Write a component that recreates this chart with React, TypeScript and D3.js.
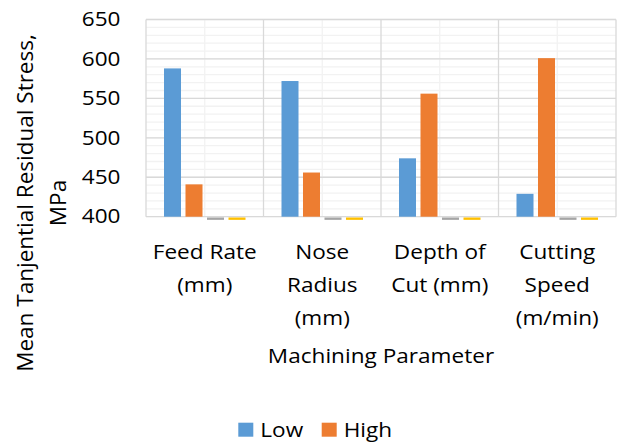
import React from "react";
import * as d3 from "d3";

// Mean tangential residual stress by machining parameter level
const categories: string[][] = [
  ["Feed Rate", "(mm)"],
  ["Nose", "Radius", "(mm)"],
  ["Depth of", "Cut (mm)"],
  ["Cutting", "Speed", "(m/min)"],
];
const lowValues = [588, 572, 474, 429];
const highValues = [441, 456, 556, 601];
const series3Values = [0, 0, 0, 0];
const series4Values = [0, 0, 0, 0];
const yTicks = [400, 450, 500, 550, 600, 650];
const legendItems = [
  { name: "Low", color: "#5b9bd5" },
  { name: "High", color: "#ed7d31" },
];
const seriesColors = ["#5b9bd5", "#ed7d31", "#a5a5a5", "#ffc000"];

const W = 626;
const H = 444;
const FONT = "'Open Sans', sans-serif";
const FS = 20;
const STRETCH = 1.13;

// Horizontal label with a slightly widened face
function Label({
  x,
  y,
  anchor = "start",
  children,
}: {
  x: number;
  y: number;
  anchor?: "start" | "middle" | "end";
  children: React.ReactNode;
}) {
  return (
    <g transform={`translate(${x},${y}) scale(${STRETCH},1)`}>
      <text x={0} y={0} textAnchor={anchor} fontSize={FS} fill="#000">
        {children}
      </text>
    </g>
  );
}

export default function App() {
  const left = 146;
  const right = 616;
  const top = 19.5;
  const bottom = 216.7;
  const yMin = 400;
  const yMax = 650;

  const y = d3.scaleLinear().domain([yMin, yMax]).range([bottom, top]);
  const x = d3
    .scaleBand<number>()
    .domain(d3.range(categories.length))
    .range([left, right])
    .padding(0);
  const inner = d3
    .scaleBand<number>()
    .domain([0, 1, 2, 3])
    .range([0, x.bandwidth()])
    .paddingInner(0.209)
    .paddingOuter(0.837);

  const allSeries = [lowValues, highValues, series3Values, series4Values];
  const minorTicks = d3.range(yMin, yMax + 1, 10);
  const catBounds = d3.range(categories.length + 1).map((i) =>
    i < categories.length ? x(i)! : right
  );

  const lineH = 32.8;

  return (
    <svg
      width={W}
      height={H}
      style={{ position: "absolute", left: 0, top: 0, background: "#fff" }}
      fontFamily={FONT}
    >
      {/* minor gridlines */}
      {minorTicks.map((t) => (
        <line key={"mh" + t} x1={left} x2={right} y1={y(t)} y2={y(t)} stroke="#f2f2f2" strokeWidth={1.3} />
      ))}
      {categories.map((_, i) => (
        <line
          key={"mv" + i}
          x1={x(i)! + x.bandwidth() / 2}
          x2={x(i)! + x.bandwidth() / 2}
          y1={top}
          y2={bottom}
          stroke="#f2f2f2"
          strokeWidth={1.3}
        />
      ))}
      {/* major gridlines */}
      {yTicks.map((t) => (
        <line key={"h" + t} x1={left} x2={right} y1={y(t)} y2={y(t)} stroke="#d9d9d9" strokeWidth={1.3} />
      ))}
      {catBounds.map((bx, i) => (
        <line key={"v" + i} x1={bx} x2={bx} y1={top} y2={bottom} stroke="#d9d9d9" strokeWidth={1.3} />
      ))}

      {/* bars */}
      {allSeries.map((vals, s) =>
        vals.map((v, i) => {
          const bx = x(i)! + inner(s)!;
          let y0: number;
          let y1: number;
          if (v >= yMin) {
            y0 = y(v);
            y1 = y(yMin);
          } else {
            // values below the axis minimum show as a short stub under the axis
            y0 = y(yMin) + 0.8;
            y1 = y(yMin - 4);
          }
          return (
            <rect
              key={`b${s}-${i}`}
              x={bx}
              y={y0}
              width={inner.bandwidth()}
              height={y1 - y0}
              fill={seriesColors[s]}
            />
          );
        })
      )}

      {/* y tick labels */}
      {yTicks.map((t) => (
        <Label key={"yt" + t} x={120.5} y={y(t) + 6.7} anchor="end">
          {t}
        </Label>
      ))}

      {/* category labels */}
      {categories.map((lines, i) =>
        lines.map((ln, j) => (
          <Label key={`c${i}-${j}`} x={x(i)! + x.bandwidth() / 2} y={259 + j * lineH} anchor="middle">
            {ln}
          </Label>
        ))
      )}

      {/* x axis title */}
      <Label x={(left + right) / 2} y={363} anchor="middle">
        Machining Parameter
      </Label>

      {/* y axis title */}
      <g transform="translate(0,203) rotate(-90)">
        <text textAnchor="middle" fontSize={22.5} fill="#000">
          <tspan x={0} y={32.5}>Mean Tanjential Residual Stress,</tspan>
          <tspan x={0} y={66}>MPa</tspan>
        </text>
      </g>

      {/* legend */}
      {legendItems.map((it, i) => {
        const lx = [238.3, 321.7][i];
        return (
          <g key={it.name}>
            <rect x={lx} y={422.7} width={15} height={14} fill={it.color} />
            <Label x={lx + 22} y={436.5}>
              {it.name}
            </Label>
          </g>
        );
      })}
    </svg>
  );
}
